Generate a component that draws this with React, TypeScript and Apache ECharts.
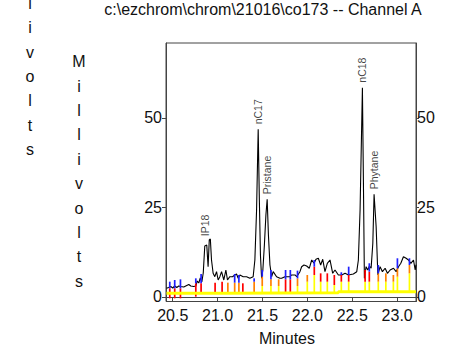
import React, { useEffect, useRef } from "react";
import * as echarts from "echarts";

const titleText = "c:\\ezchrom\\chrom\\21016\\co173 -- Channel A";
const xTickValues = [20.5, 21.0, 21.5, 22.0, 22.5, 23.0];
const yTickValues = [0, 25, 50];

const traceTimes = [
  20.43, 20.455, 20.478, 20.5, 20.522, 20.545, 20.567, 20.589, 20.623, 20.656,
  20.679, 20.701, 20.734, 20.757, 20.773, 20.79, 20.807, 20.824, 20.84, 20.857,
  20.879, 20.894, 20.907, 20.919, 20.932, 20.95, 20.969, 20.988, 21.006, 21.025,
  21.044, 21.069, 21.092, 21.11, 21.136, 21.166, 21.192, 21.211, 21.229, 21.248,
  21.285, 21.323, 21.359, 21.396, 21.415, 21.434, 21.452, 21.465, 21.477, 21.49,
  21.504, 21.521, 21.538, 21.552, 21.566, 21.583, 21.602, 21.619, 21.657, 21.694,
  21.713, 21.75, 21.769, 21.806, 21.825, 21.862, 21.881, 21.917, 21.936, 21.962,
  21.992, 22.021, 22.048, 22.074, 22.096, 22.122, 22.148, 22.171, 22.196, 22.222,
  22.252, 22.282, 22.308, 22.345, 22.383, 22.42, 22.457, 22.512, 22.55, 22.568,
  22.587, 22.613, 22.624, 22.635, 22.654, 22.673, 22.691, 22.71, 22.729, 22.743,
  22.766, 22.785, 22.81, 22.836, 22.866, 22.892, 22.922, 22.959, 22.989, 23.015,
  23.041, 23.07, 23.1, 23.126, 23.153, 23.182, 23.201, 23.21,
];
const traceMv = [
  2.43, 2.65, 2.93, 2.51, 3.07, 2.65, 3.07, 2.93, 2.79, 3.21,
  3.49, 3.07, 2.93, 3.07, 4.47, 3.91, 5.31, 4.19, 6.7, 14.25,
  14.53, 8.46, 15.92, 16.2, 10.34, 6.62, 5.67, 7.07, 4.75, 5.67,
  7.07, 4.75, 7.54, 4.75, 5.67, 5.67, 6.15, 6.42, 5.22, 6.15,
  5.67, 5.67, 5.22, 5.67, 10.34, 24.3, 46.84, 27.09, 11.73, 5.22,
  7.54, 14.53, 22.91, 27.29, 17.32, 8.94, 5.67, 7.07, 5.67, 5.22,
  5.22, 5.67, 5.67, 5.67, 6.15, 6.15, 5.67, 7.07, 8.46, 8.94,
  8.66, 8.02, 10.34, 9.41, 10.53, 10.81, 8.94, 10.53, 7.07, 9.41,
  10.34, 6.62, 7.54, 6.15, 6.15, 6.62, 6.15, 6.42, 7.07, 10.34,
  24.3, 58.46, 32.68, 5.22, 8.46, 7.54, 8.66, 8.02, 15.0, 28.69,
  19.64, 6.15, 8.46, 7.07, 8.02, 6.62, 7.54, 8.02, 7.07, 8.46,
  9.41, 11.26, 10.81, 10.34, 9.41, 10.34, 7.54, 9.0,
];

const baselineTimes = [20.43, 21.1, 21.1, 22.345, 22.345, 23.21];
const baselineMv = [1.02, 1.02, 1.21, 1.21, 1.49, 1.49];

// drop lines: time, bottom, top of yellow part, top of red/orange part, top of blue part, mid colour (0 red, 1 orange)
const dropTimes = [
  20.467, 20.522, 20.586, 20.757, 20.816, 20.972, 21.05, 21.114, 21.19, 21.237,
  21.281, 21.407, 21.497, 21.594, 21.68, 21.757, 21.81, 21.89, 21.999, 22.077,
  22.148, 22.222, 22.3, 22.378, 22.46, 22.643, 22.69, 22.79, 22.874, 22.958,
  23.003, 23.137,
];
const dropBase = [
  -0.37, -0.37, -0.37, 0.09, 1.02, 1.02, 1.02, 1.21, 1.21, 1.21,
  1.21, 1.21, 1.21, 1.21, 1.21, 1.21, 1.21, 1.21, 1.21, 1.21,
  1.21, 1.21, 1.21, 1.49, 1.49, 1.49, 1.49, 1.49, 1.49, 1.49,
  1.49, 1.49,
];
const dropYellowTop = [
  -0.37, -0.37, -0.37, 0.09, 1.02, 1.02, 1.02, 1.21, 1.21, 1.21,
  1.21, 1.21, 3.07, 3.07, 3.07, 1.21, 1.21, 3.07, 4.28, 6.15,
  4.28, 4.28, 3.35, 4.28, 4.28, 4.28, 4.28, 4.28, 4.28, 4.28,
  5.68, 6.61,
];
const dropMidTop = [
  2.42, 2.42, 2.42, 3.82, 3.82, 4.0, 4.28, 4.0, 4.0, 4.0,
  3.82, 4.28, 5.68, 4.93, 4.93, 4.93, 4.93, 5.21, 6.15, 8.47,
  6.61, 6.61, 6.15, 6.15, 6.15, 7.54, 7.08, 6.61, 6.61, 6.15,
  8.01, 8.94,
];
const dropBlueTop = [
  4.28, 4.75, 4.93, 5.21, 6.42, 0, 0, 0, 6.42, 6.15,
  0, 5.21, 7.54, 7.54, 0, 7.54, 7.54, 7.36, 0, 10.34,
  0, 0, 0, 6.9, 8.47, 0, 9.42, 8.94, 0, 0,
  10.81, 10.81,
];
const dropMidColor = [
  0, 0, 0, 0, 0, 0, 0, 1, 1, 1,
  0, 1, 1, 1, 1, 0, 0, 1, 1, 0,
  0, 0, 0, 0, 0, 0, 0, 1, 1, 1,
  1, 1,
];

const peakNames = ["IP18", "nC17", "Pristane", "nC18", "Phytane"];
const peakTimes = [20.86, 21.452, 21.545, 22.613, 22.743];
const peakMv = [15.6, 46.84, 27.29, 58.46, 28.69];

const FONT = "'Liberation Sans', Arial, sans-serif";

export default function App() {
  const ref = useRef<HTMLDivElement>(null);
  useEffect(() => {
    if (!ref.current) return;
    const chart = echarts.init(ref.current, undefined, { renderer: "svg" });
    const trace = traceTimes.map((t, i) => [t, traceMv[i]]);
    const baseline = baselineTimes.map((t, i) => [t, baselineMv[i]]);
    const drops = dropTimes.map((t, i) => [
      t, dropBase[i], dropYellowTop[i], dropMidTop[i], dropBlueTop[i], dropMidColor[i],
    ]);
    const peaks = peakNames.map((n, i) => ({ name: n, value: [peakTimes[i], peakMv[i]] }));

    const yAxisCommon = {
      type: "value",
      min: -1.26,
      max: 70.95,
      splitLine: { show: false },
      axisLine: { show: true, lineStyle: { color: "#444", width: 1 } },
    };
    const lettersCol = "M\ni\nl\nl\ni\nv\no\nl\nt\ns";
    const lettersCut = "l\ni\nv\no\nl\nt\ns";

    chart.setOption({
      animation: false,
      grid: { left: 166, right: 38, top: 43, bottom: 50.5, show: true, borderColor: "#444", borderWidth: 1 },
      xAxis: {
        type: "value",
        min: 20.425,
        max: 23.21,
        splitLine: { show: false },
        axisLine: { show: true, lineStyle: { color: "#444" } },
        axisTick: { show: true, length: 4.5, lineStyle: { color: "#444" }, customValues: xTickValues },
        axisLabel: {
          customValues: xTickValues,
          formatter: (v: number) => v.toFixed(1),
          fontSize: 16,
          fontFamily: FONT,
          color: "#111",
          margin: 6,
        },
      },
      yAxis: [
        {
          ...yAxisCommon,
          position: "left",
          axisTick: { show: true, length: 4, lineStyle: { color: "#444" }, customValues: yTickValues },
          axisLabel: { customValues: yTickValues, fontSize: 16, fontFamily: FONT, color: "#111", margin: 4 },
        },
        {
          ...yAxisCommon,
          position: "right",
          axisTick: { show: true, length: 3, lineStyle: { color: "#444" }, customValues: yTickValues },
          axisLabel: { customValues: yTickValues, fontSize: 16, fontFamily: FONT, color: "#111", margin: 1 },
        },
      ],
      graphic: [
        {
          type: "text",
          x: 263,
          y: 9.5,
          style: { text: titleText, font: `16px ${FONT}`, fill: "#111", textAlign: "center", textVerticalAlign: "middle" },
        },
        {
          type: "text",
          x: 30,
          y: -9,
          style: { text: lettersCut, font: `16px ${FONT}`, fill: "#111", textAlign: "center", textVerticalAlign: "top", lineHeight: 24.4 },
        },
        {
          type: "text",
          x: 79,
          y: 49.5,
          style: { text: lettersCol, font: `16px ${FONT}`, fill: "#111", textAlign: "center", textVerticalAlign: "top", lineHeight: 24.4 },
        },
        {
          type: "text",
          x: 287,
          y: 338,
          style: { text: "Minutes", font: `16px ${FONT}`, fill: "#111", textAlign: "center", textVerticalAlign: "middle" },
        },
      ],
      series: [
        {
          type: "line",
          data: trace,
          showSymbol: false,
          symbol: "none",
          lineStyle: { color: "#000", width: 1.1 },
          z: 3,
        },
        {
          type: "custom",
          data: drops,
          encode: { x: 0, y: [1, 2, 3, 4] },
          z: 4,
          renderItem: (params: any, api: any) => {
            const t = api.value(0);
            const base = api.value(1);
            const yt = api.value(2);
            const mt = api.value(3);
            const bt = api.value(4);
            const ci = api.value(5);
            const children: any[] = [];
            const seg = (a: number, b: number, color: string) => {
              if (b > a) {
                const pa = api.coord([t, a]);
                const pb = api.coord([t, b]);
                children.push({
                  type: "line",
                  shape: { x1: pa[0], y1: pa[1], x2: pb[0], y2: pb[1] },
                  style: { stroke: color, lineWidth: 1.7 },
                });
              }
            };
            seg(base, yt, "#ffff00");
            seg(yt, mt, ci ? "#ff8000" : "#ff0000");
            seg(mt, bt, "#2020ff");
            return { type: "group", children };
          },
        },
        {
          type: "line",
          data: baseline,
          showSymbol: false,
          symbol: "none",
          lineStyle: { color: "#ffff00", width: 3 },
          z: 5,
        },
        {
          type: "scatter",
          data: peaks,
          symbolSize: 0,
          z: 6,
          label: {
            show: true,
            formatter: (p: any) => p.name,
            position: "top",
            distance: 5,
            rotate: 90,
            align: "left",
            verticalAlign: "middle",
            fontSize: 10.5,
            fontFamily: FONT,
            color: "#111",
          },
        },
      ],
    });
    return () => chart.dispose();
  }, []);
  return (
    <div
      ref={ref}
      style={{ position: "fixed", left: 0, top: 0, width: 454, height: 352, background: "#fff" }}
    />
  );
}
